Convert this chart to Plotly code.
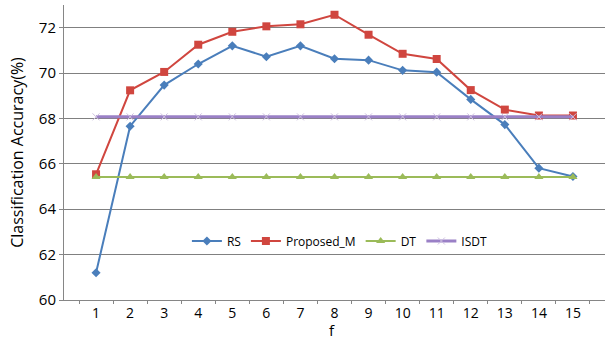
import plotly.graph_objects as go

f_labels = [str(i) for i in range(1, 16)]
rs = [61.2, 67.66, 69.47, 70.4, 71.2, 70.72, 71.2, 70.63, 70.57, 70.12, 70.04, 68.84, 67.73, 65.81, 65.44]
proposed_m = [65.54, 69.24, 70.05, 71.25, 71.82, 72.06, 72.15, 72.57, 71.69, 70.85, 70.62, 69.25, 68.39, 68.13, 68.13]
dt = [65.42] * 15
isdt = [68.07] * 15

font = "Open Sans, Noto Sans CJK KR, sans-serif"

fig = go.Figure()
fig.add_trace(go.Scatter(x=f_labels, y=rs, name="RS", mode="lines+markers",
                         line=dict(color="#4A7EBB", width=2),
                         marker=dict(symbol="diamond", size=7, color="#4A7EBB")))
fig.add_trace(go.Scatter(x=f_labels, y=proposed_m, name="Proposed_M", mode="lines+markers",
                         line=dict(color="#D0463F", width=2),
                         marker=dict(symbol="square", size=8, color="#D0463F")))
fig.add_trace(go.Scatter(x=f_labels, y=dt, name="DT", mode="lines+markers",
                         line=dict(color="#9BBB59", width=2),
                         marker=dict(symbol="triangle-up", size=8, color="#9BBB59")))
fig.add_trace(go.Scatter(x=f_labels, y=isdt, name="ISDT", mode="lines+markers",
                         line=dict(color="#9A80C6", width=3),
                         marker=dict(symbol="x-thin", size=7, line=dict(color="#CDBFE0", width=1))))

fig.update_layout(
    width=608, height=342,
    margin=dict(l=64, r=3, t=5, b=42, autoexpand=False),
    paper_bgcolor="white", plot_bgcolor="white",
    font=dict(family=font, size=14, color="#000000"),
    legend=dict(orientation="h", x=0.51, y=0.2, xanchor="center", yanchor="middle",
                traceorder="normal", font=dict(size=12), bgcolor="rgba(0,0,0,0)",
                itemwidth=30, tracegroupgap=0),
    annotations=[dict(text="f", xref="paper", yref="paper", x=0.496, y=-0.138,
                      xanchor="center", yanchor="bottom", showarrow=False,
                      borderpad=0, font=dict(size=15))],
)
fig.update_xaxes(
    type="category", tickson="boundaries", ticks="outside", ticklen=3, tickcolor="#868686",
    showline=True, linecolor="#868686", linewidth=1, showgrid=False, automargin=False,
    tickfont=dict(size=14),
)
fig.update_yaxes(
    range=[60, 73], tickvals=[60, 62, 64, 66, 68, 70, 72], ticks="outside", ticklen=4,
    tickcolor="#868686", showline=True, linecolor="#868686", linewidth=1, automargin=False,
    showgrid=True, gridcolor="#808080", gridwidth=1, zeroline=False,
    title=dict(text="Classification Accuracy(%)", font=dict(size=16), standoff=11),
    tickfont=dict(size=15),
)
fig.write_html("out.html", config={"displayModeBar": False},
               post_script="document.body.style.margin='0px';")
